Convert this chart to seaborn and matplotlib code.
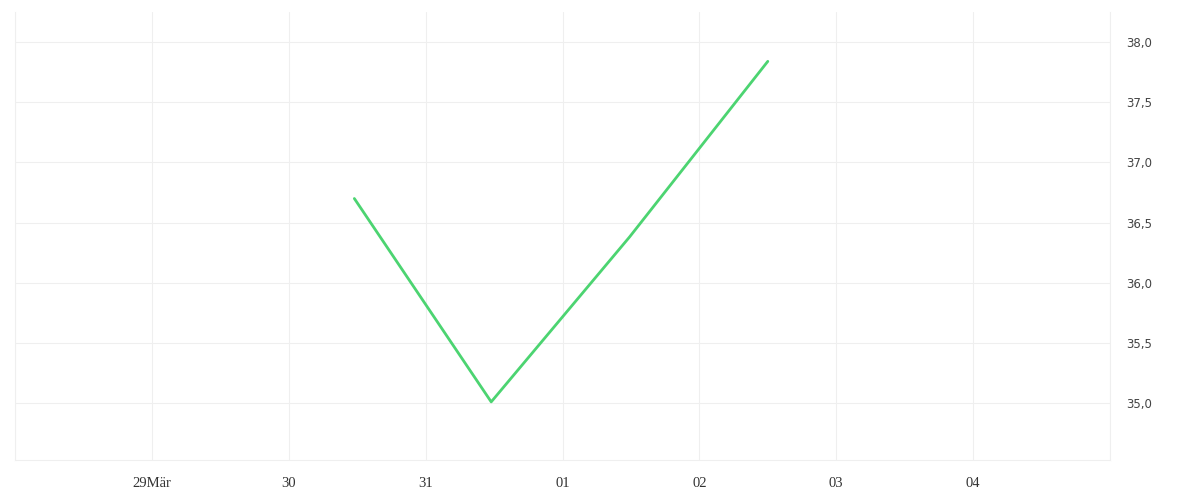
import pandas as pd
import numpy as np
import seaborn as sns
import matplotlib
matplotlib.use('Agg')
import matplotlib.pyplot as plt
from matplotlib.ticker import FuncFormatter

# DATOS DEL GRAFICO
fechas = ['2024-03-30 11:30', '2024-03-31 11:30', '2024-04-01 11:45', '2024-04-02 12:00']
valores = [36.70, 35.01, 36.38, 37.84]
dias = ['2024-03-28', '2024-03-29', '2024-03-30', '2024-03-31', '2024-04-01',
        '2024-04-02', '2024-04-03', '2024-04-04', '2024-04-05']
etiquetas_x = ['', '29Mär', '30', '31', '01', '02', '03', '04', '']
ticks_y = [35.0, 35.5, 36.0, 36.5, 37.0, 37.5, 38.0]

df = pd.DataFrame({'fecha': pd.to_datetime(fechas), 'valor': valores})

sns.set_style('white')
fig = plt.figure(figsize=(12, 5), dpi=100)
ax = fig.add_axes([0.0125, 0.08, 0.9125, 0.896])

sns.lineplot(data=df, x='fecha', y='valor', ax=ax, color='#4cd471', linewidth=2)

grid_color = '#efefef'
ax.set_xlim(pd.Timestamp(dias[0]), pd.Timestamp(dias[-1]))
ax.set_ylim(34.527, 38.25)
ax.set_xticks(pd.to_datetime(dias))
ax.set_xticklabels(etiquetas_x, fontfamily='Liberation Serif', fontsize=10.5, color='#333333')
ax.set_yticks(ticks_y)
ax.yaxis.set_major_formatter(FuncFormatter(lambda v, p: f'{v:.1f}'.replace('.', ',')))
ax.yaxis.tick_right()
for lab in ax.get_yticklabels():
    lab.set_fontfamily('DejaVu Sans')
ax.tick_params(axis='y', length=0, pad=12, labelsize=8.5, labelcolor='#444444')
ax.tick_params(axis='x', length=7, width=0.8, color=grid_color, direction='out', pad=5)
ax.grid(True, color=grid_color, linewidth=0.8)
ax.set_xlabel('')
ax.set_ylabel('')
for s in ['left', 'right', 'bottom']:
    ax.spines[s].set_color(grid_color)
    ax.spines[s].set_linewidth(0.8)
ax.spines['top'].set_visible(False)

fig.savefig('out.png', dpi=100)
